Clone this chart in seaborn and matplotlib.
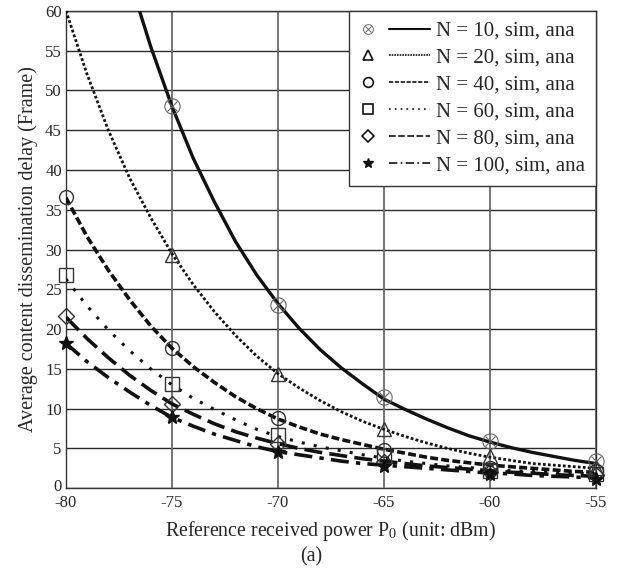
import numpy as np
import pandas as pd
import matplotlib
matplotlib.use('Agg')
import matplotlib.pyplot as plt
import matplotlib.transforms as mtransforms
import seaborn as sns
from matplotlib.lines import Line2D
from matplotlib.legend_handler import HandlerBase

# 데이터: 해석 곡선 (1 dBm 간격)
p_ana = list(range(-80, -54))
ana_10 = [np.nan, np.nan, np.nan, 64, 55.5, 48, 41.5, 36, 31, 26.8, 23.2, 20.1, 17.4, 15.1, 13.1,
          11.2, 9.9, 8.7, 7.6, 6.6, 5.8, 5.1, 4.5, 4.0, 3.5, 3.1]
ana_20 = [60, 52, 45, 39, 34, 29.5, 25.6, 22.2, 19.2, 16.6, 14.4, 12.6, 11.0, 9.6, 8.4,
          7.4, 6.5, 5.7, 5.0, 4.4, 3.9, 3.5, 3.1, 2.9, 2.7, 2.5]
ana_40 = [36.5, 31.6, 27.4, 23.7, 20.4, 17.6, 15.3, 13.3, 11.5, 10.0, 8.7, 7.7, 6.8, 6.1, 5.5,
          4.9, 4.4, 3.9, 3.5, 3.2, 2.9, 2.7, 2.5, 2.3, 2.1, 2.0]
ana_60 = [26.3, 22.9, 19.9, 17.3, 15.0, 13.0, 11.3, 9.9, 8.6, 7.4, 6.5, 5.8, 5.2, 4.7, 4.2,
          3.8, 3.4, 3.1, 2.8, 2.6, 2.4, 2.2, 2.1, 2.0, 1.9, 1.8]
ana_80 = [21.5, 18.8, 16.4, 14.2, 12.3, 10.6, 9.3, 8.1, 7.1, 6.3, 5.6, 5.0, 4.5, 4.1, 3.7,
          3.4, 3.1, 2.8, 2.6, 2.4, 2.2, 2.0, 1.9, 1.7, 1.6, 1.5]
ana_100 = [18.2, 15.9, 13.9, 12.1, 10.4, 8.9, 7.8, 6.8, 6.0, 5.2, 4.6, 4.2, 3.8, 3.4, 3.1,
           2.9, 2.7, 2.5, 2.3, 2.1, 1.9, 1.8, 1.6, 1.5, 1.4, 1.3]

# 데이터: 시뮬레이션 점
p_sim = [-80, -75, -70, -65, -60, -55]
sim_10 = [np.nan, 48, 23, 11.5, 5.9, 3.4]
sim_20 = [np.nan, 29.3, 14.3, 7.4, 4.1, 2.6]
sim_40 = [36.6, 17.6, 8.8, 4.8, 2.5, 2.1]
sim_60 = [26.8, 13.1, 6.7, 4.0, 2.2, 1.8]
sim_80 = [21.6, 10.6, 5.6, 3.3, 2.0, 1.6]
sim_100 = [18.2, 8.9, 4.5, 2.8, 1.8, 1.2]

node_counts = [10, 20, 40, 60, 80, 100]
ana_all = [ana_10, ana_20, ana_40, ana_60, ana_80, ana_100]
sim_all = [sim_10, sim_20, sim_40, sim_60, sim_80, sim_100]

x_ticks = [-80, -75, -70, -65, -60, -55]
y_ticks = [0, 5, 10, 15, 20, 25, 30, 35, 40, 45, 50, 55, 60]

sns.set_style('white')
plt.rcParams['font.family'] = ['Liberation Serif', 'DejaVu Serif']
plt.rcParams['mathtext.fontset'] = 'stix'

# 스타일
line_styles = ['-', (0, (1, 0.8)), (0, (2.2, 0.9)), (0, (1, 3)), (0, (5, 2)), (0, (5, 2, 1.2, 2))]
legend_styles = ['-', (0, (1, 0.6)), (0, (2.5, 1)), (0, (1, 2.5)), (0, (4, 1.5)), (0, (5, 2, 1, 2))]
line_widths = [2.4, 2.0, 2.6, 2.2, 2.6, 2.6]
markers = ['otimes', '^', 'o', 's', 'D', '*']
msizes = [11, 10, 10, 10, 8, 10]

fig = plt.figure(figsize=(6.22, 5.69), dpi=100)
ax = fig.add_axes([0.106, 0.142, 0.852, 0.839])


class Pair:
    # 범례 항목: 마커 목록 + 선 스타일
    def __init__(self, marks, ls, lw):
        self.marks = marks
        self.ls = ls
        self.lw = lw


class PairHandler(HandlerBase):
    def create_artists(self, legend, orig_handle, xdescent, ydescent, width, height, fontsize, trans):
        y = height / 2 - ydescent
        mx = 0.12 * width - xdescent
        artists = []
        for kw in orig_handle.marks:
            artists.append(Line2D([mx], [y], linestyle='none', transform=trans, **kw))
        artists.append(Line2D([0.42 * width - xdescent, width - xdescent], [y, y], color='#111111',
                              lw=orig_handle.lw, linestyle=orig_handle.ls, transform=trans))
        return artists


pairs = []
for i, n in enumerate(node_counts):
    df_a = pd.DataFrame({'p': p_ana, 'd': ana_all[i]}).dropna()
    df_s = pd.DataFrame({'p': p_sim, 'd': sim_all[i]}).dropna()
    sns.lineplot(data=df_a, x='p', y='d', ax=ax, color='#111111', lw=line_widths[i],
                 linestyle=line_styles[i], zorder=3)
    if markers[i] == '*':
        ax.plot(df_s['p'], df_s['d'], linestyle='none', marker='*', ms=msizes[i],
                color='#111111', zorder=4, clip_on=False)
        marks = [dict(marker='*', ms=7, color='#111111')]
    elif markers[i] == 'otimes':
        # ⊗ = 원 + x
        ax.plot(df_s['p'], df_s['d'], linestyle='none', marker='o', ms=msizes[i],
                mfc='none', mec='#666666', mew=0.8, zorder=4, clip_on=False)
        ax.plot(df_s['p'], df_s['d'], linestyle='none', marker='x', ms=msizes[i] * 0.62,
                mec='#666666', mew=0.8, zorder=4, clip_on=False)
        marks = [dict(marker='o', ms=7, mfc='none', mec='#666666', mew=0.7),
                 dict(marker='x', ms=4.3, mec='#666666', mew=0.7)]
    else:
        ax.plot(df_s['p'], df_s['d'], linestyle='none', marker=markers[i], ms=msizes[i],
                mfc='none', mec='#333333', mew=1.0, zorder=4, clip_on=False)
        marks = [dict(marker=markers[i], ms=7 if markers[i] != 'D' else 6,
                      mfc='none', mec='#111111', mew=1.2)]
    pairs.append(Pair(marks, legend_styles[i], 1.5 if i == 0 else 1.2))

labels = [f'N = {n}, sim, ana' for n in node_counts]

ax.set_xlim(-80, -55)
ax.set_ylim(0, 60)
ax.set_xticks(x_ticks)
ax.set_xticklabels([str(t) for t in x_ticks])
ax.set_yticks(y_ticks)
ax.tick_params(axis='both', labelsize=12, length=0)
ax.tick_params(axis='x', pad=5)
ax.tick_params(axis='y', pad=3)

# "0" 라벨을 살짝 위로
lab0 = ax.get_yticklabels()[0]
lab0.set_transform(lab0.get_transform() + mtransforms.ScaledTranslation(0, 3 / 100, fig.dpi_scale_trans))

for t in y_ticks:
    ax.axhline(t, color='#2a2a2a', lw=1.0, zorder=1)
for t in x_ticks:
    ax.axvline(t, color='#6a6a6a', lw=1.3, zorder=1)
for s in ax.spines.values():
    s.set_color('#333333')
    s.set_linewidth(1.0)

ax.set_xlabel('Reference received power P$_0$ (unit: dBm)', fontsize=14.3, labelpad=6)
ax.set_ylabel('Average content dissemination delay (Frame)', fontsize=14.5, labelpad=5)

leg = ax.legend(pairs, labels, loc='upper right', borderaxespad=0, fontsize=15,
                handler_map={Pair: PairHandler()},
                handlelength=3.4, handletextpad=0.3, labelspacing=0.35,
                frameon=True, fancybox=False, borderpad=0.5)
leg.get_frame().set_edgecolor('#333333')
leg.get_frame().set_linewidth(1.0)
leg.get_frame().set_alpha(1)

fig.text(0.5, 0.022, '(a)', ha='center', va='center', fontsize=14.3)

fig.savefig('out.png', dpi=100)
